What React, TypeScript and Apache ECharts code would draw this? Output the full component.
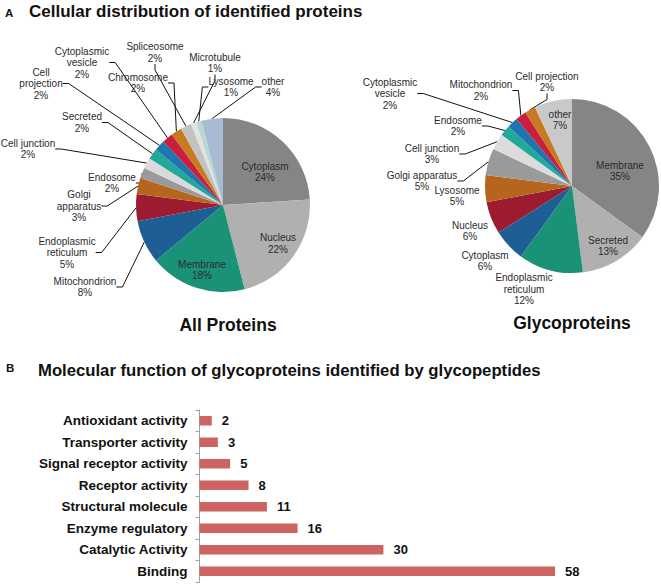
import React, { useEffect, useRef } from "react";
import * as echarts from "echarts";

// ---- Panel A: all proteins ----
const allNames = [
  "Cytoplasm", "Nucleus", "Membrane", "Mitochondrion", "Endoplasmic\nreticulum",
  "Golgi\napparatus", "Endosome", "Cell junction", "Secreted", "Cell\nprojection",
  "Cytoplasmic\nvesicle", "Chromosome", "Spliceosome", "Microtubule", "Lysosome", "other",
];
const allValues = [24, 22, 18, 8, 5, 3, 2, 2, 2, 2, 2, 2, 2, 1, 1, 4];
const allColors = [
  "#858585", "#b0b0b0", "#1a9278", "#1d5f95", "#9c1b31", "#b5651d", "#9a9a9a", "#dadada",
  "#22a898", "#1f74b2", "#c8203c", "#c77a1f", "#c2c2c2", "#e2e2e2", "#b8d8cf", "#a9bad3",
];
const allLabelPos: number[][] = [
  [265, 172], [278, 243.5], [202, 270], [85, 287], [67, 252.5], [79, 206], [112, 183],
  [28, 149], [82, 122.5], [41, 83.5], [82, 62.5], [138, 83], [155, 52.5], [215, 63],
  [231, 87], [273, 87],
];
const allHasLine = [false, false, false, true, true, true, true, true, true, true, true, true, true, true, true, true];

// ---- Panel A: glycoproteins ----
const glycoNames = [
  "Membrane", "Secreted", "Endoplasmic\nreticulum", "Cytoplasm", "Nucleus", "Lysosome",
  "Golgi apparatus", "Cell junction", "Endosome", "Cytoplasmic\nvesicle", "Mitochondrion",
  "Cell projection", "other",
];
const glycoValues = [35, 13, 12, 6, 6, 5, 5, 3, 2, 2, 2, 2, 7];
const glycoColors = [
  "#858585", "#b0b0b0", "#1a9278", "#1d5f95", "#9c1b31", "#b5651d", "#9a9a9a", "#dcdcdc",
  "#22a898", "#1f74b2", "#c8203c", "#c77a1f", "#c9c9c9",
];
const glycoLabelPos: number[][] = [
  [620, 171], [608, 246], [524, 289], [485, 261], [470, 231], [457, 196], [422, 181],
  [432, 154], [458, 126], [390, 93.5], [481, 90.5], [547, 82], [560, 120],
];
const glycoHasLine = [false, false, false, false, false, false, true, true, true, true, true, true, false];

// ---- Panel B: molecular function ----
const barCategories = [
  "Antioxidant activity", "Transporter activity", "Signal receptor activity", "Receptor activity",
  "Structural molecule", "Enzyme regulatory", "Catalytic Activity", "Binding",
];
const barValues = [2, 3, 5, 8, 11, 16, 30, 58];

const FONT = "'Liberation Sans', Arial, Helvetica, sans-serif";

function pieSeries(
  names: string[], values: number[], colors: string[], pos: number[][], hasLine: boolean[],
  center: number[]
) {
  return {
    type: "pie",
    center,
    radius: 87,
    startAngle: 90,
    clockwise: true,
    avoidLabelOverlap: false,
    silent: true,
    label: {
      show: true,
      position: "outside",
      formatter: "{b}\n{c}%",
      fontSize: 10,
      lineHeight: 11.5,
      color: "#2b2b2b",
      fontFamily: FONT,
      align: "center",
    },
    labelLine: {
      show: true,
      length: 6,
      length2: 6,
      smooth: false,
      lineStyle: { color: "#111", width: 1 },
    },
    labelLayout: (p: any) => ({
      x: pos[p.dataIndex][0],
      y: pos[p.dataIndex][1],
      align: "center",
      verticalAlign: "middle",
    }),
    data: names.map((n, i) => ({
      name: n,
      value: values[i],
      itemStyle: { color: colors[i] },
      labelLine: { show: hasLine[i] },
    })),
  };
}

export default function App() {
  const ref = useRef<HTMLDivElement>(null);
  useEffect(() => {
    if (!ref.current) return;
    const chart = echarts.init(ref.current, null, { renderer: "svg" });
    chart.setOption({
      animation: false,
      textStyle: { fontFamily: FONT },
      graphic: [
        { type: "text", x: 5, y: 12.7, style: { text: "A", fontSize: 11.5, fontWeight: "bold", fill: "#111", fontFamily: FONT, verticalAlign: "middle" } },
        { type: "text", x: 29, y: 11.5, style: { text: "Cellular distribution of identified proteins", fontSize: 17, fontWeight: "bold", fill: "#111", fontFamily: FONT, verticalAlign: "middle" } },
        { type: "text", x: 228, y: 324.7, style: { text: "All Proteins", fontSize: 17.5, fontWeight: "bold", fill: "#111", fontFamily: FONT, align: "center", verticalAlign: "middle" } },
        { type: "text", x: 572, y: 322.7, style: { text: "Glycoproteins", fontSize: 17.5, fontWeight: "bold", fill: "#111", fontFamily: FONT, align: "center", verticalAlign: "middle" } },
        { type: "text", x: 6, y: 368, style: { text: "B", fontSize: 11.5, fontWeight: "bold", fill: "#111", fontFamily: FONT, verticalAlign: "middle" } },
        { type: "text", x: 38, y: 370, style: { text: "Molecular function of glycoproteins identified by glycopeptides", fontSize: 16.7, fontWeight: "bold", fill: "#111", fontFamily: FONT, verticalAlign: "middle" } },
      ],
      grid: { left: 199.5, top: 410, width: 367.8, height: 172 },
      xAxis: { type: "value", min: 0, max: 60, show: false },
      yAxis: {
        type: "category",
        data: barCategories,
        inverse: true,
        axisLine: { show: true, lineStyle: { color: "#a0a0a0", width: 1 } },
        axisTick: { show: true, length: 4, lineStyle: { color: "#a0a0a0" } },
        axisLabel: { fontSize: 13.5, fontWeight: "bold", color: "#111", margin: 12, fontFamily: FONT },
      },
      series: [
        pieSeries(allNames, allValues, allColors, allLabelPos, allHasLine, [223, 205]),
        pieSeries(glycoNames, glycoValues, glycoColors, glycoLabelPos, glycoHasLine, [572, 186]),
        {
          type: "bar",
          data: barValues,
          barWidth: 9.5,
          silent: true,
          itemStyle: { color: "#cc6461" },
          label: { show: true, position: "right", distance: 10, fontSize: 13, fontWeight: "bold", color: "#111", fontFamily: FONT },
        },
      ],
    });
    return () => chart.dispose();
  }, []);
  return <div ref={ref} style={{ position: "absolute", left: 0, top: 0, width: 661, height: 584 }} />;
}
